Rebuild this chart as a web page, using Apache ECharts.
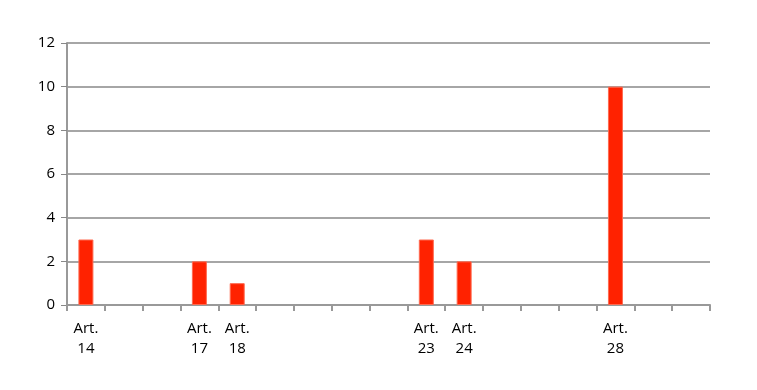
<!DOCTYPE html>
<html>
<head>
<meta charset="utf-8">
<script src="https://cdn.jsdelivr.net/npm/echarts@6/dist/echarts.min.js"></script>
<style>html,body{margin:0;padding:0;background:#fff;}#c{width:757px;height:390px;}</style>
</head>
<body>
<div id="c"></div>
<script>
const categories = ['Art. 14','Art. 15','Art. 16','Art. 17','Art. 18','Art. 19','Art. 20','Art. 21','Art. 22','Art. 23','Art. 24','Art. 25','Art. 26','Art. 27','Art. 28','Art. 29','Art. 30'];
const tickLabels = ['Art.\n14','','','Art.\n17','Art.\n18','','','','','Art.\n23','Art.\n24','','','','Art.\n28','',''];
const values = [3,0,0,2,1,0,0,0,0,3,2,0,0,0,10,0,0];
const yTicks = [0,2,4,6,8,10,12];

const chart = echarts.init(document.getElementById('c'));
chart.setOption({
  animation: false,
  backgroundColor: '#fff',
  grid: {left: 67, right: 47, top: 43, bottom: 85},
  xAxis: {
    type: 'category',
    data: categories,
    axisLine: {lineStyle: {color: '#999', width: 2}},
    axisTick: {show: true, length: 6, lineStyle: {color: '#999', width: 2}},
    axisLabel: {
      interval: 0,
      margin: 14,
      color: '#000',
      fontFamily: 'Open Sans',
      fontSize: 15,
      lineHeight: 20,
      formatter: (v, i) => tickLabels[i]
    },
    splitLine: {show: false}
  },
  yAxis: {
    type: 'value',
    min: yTicks[0],
    max: yTicks[yTicks.length - 1],
    interval: 2,
    axisLine: {show: true, lineStyle: {color: '#999', width: 2}},
    axisTick: {show: true, length: 6, lineStyle: {color: '#888', width: 1}},
    axisLabel: {color: '#000', fontFamily: 'Open Sans', fontSize: 15, margin: 12},
    splitLine: {lineStyle: {color: '#888', width: 1.5}}
  },
  series: [{
    type: 'bar',
    data: values.map(v => v === 0 ? null : v),
    barWidth: 15,
    itemStyle: {color: '#FF2200', borderColor: '#FF6A50', borderWidth: 1}
  }]
});
</script>
</body>
</html>
